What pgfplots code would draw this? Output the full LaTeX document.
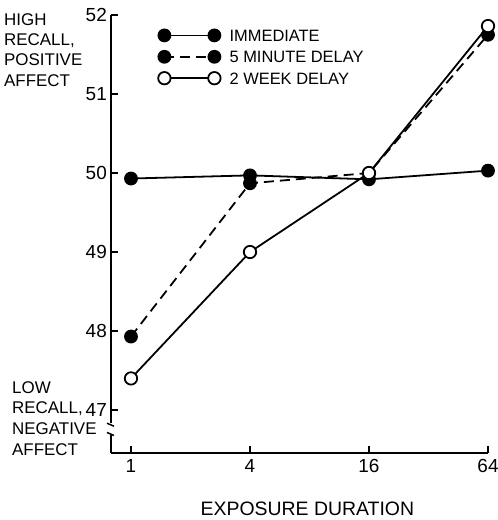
\documentclass[border=0pt]{standalone}
\usepackage{fontspec}
\setmainfont{Liberation Sans}
\usepackage{pgfplots}
\pgfplotsset{compat=1.18}
\begin{document}
\begin{tikzpicture}
\begin{axis}[
  scale only axis, width=377bp, height=438bp,
  xmin=-0.168, xmax=3, ymin=46.456, ymax=52,
  axis lines=left,
  axis line style={-, line width=1.8pt},
  xtick={0,1,2,3}, xticklabels={1,4,16,64},
  ytick={47,48,49,50,51,52},
  tick align=inside,
  major tick length=7bp,
  tick style={line width=1.5pt, black},
  /pgf/number format/assume math mode=true,
  tick label style={font=\fontsize{19}{19}\selectfont},
  yticklabel style={inner sep=4bp},
  xticklabel style={inner sep=6bp},
  xlabel={EXPOSURE DURATION},
  xlabel style={font=\fontsize{19.5}{19.5}\selectfont, at={(axis description cs:0.521,0)}, anchor=base, yshift=-62bp},
  clip=false,
  legend style={draw=none, fill=none, at={(axis description cs:0,1)}, anchor=north west,
    xshift=47bp, yshift=-14bp, inner sep=0pt, column sep=9bp,
    font=\fontsize{16.5}{16.5}\selectfont, row sep=9bp,
    nodes={inner sep=0pt, text height=12bp, text depth=0bp}},
  legend cell align=left,
  legend image code/.code={\draw[line width=1.8pt, #1] plot coordinates {(0bp,0bp) (50bp,0bp)};},
  every axis plot/.append style={line width=1.8pt, mark size=6.2bp, mark options={solid, line width=1.4pt}},
]
\addplot[black, mark=*] coordinates {(0,49.93) (1,49.97) (2,49.92) (3,50.03)};
\addlegendentry{IMMEDIATE}
\addplot[black, mark=*, dash pattern=on 10bp off 6bp] coordinates {(0,47.93) (1,49.87) (2,50.0) (3,51.75)};
\addlegendentry{5 MINUTE DELAY}
\addplot[black, mark=*, mark options={fill=white}] coordinates {(0,47.4) (1,49.0) (2,50.0) (3,51.86)};
\addlegendentry{2 WEEK DELAY}
% axis break
\fill[white] ([xshift=-4bp]rel axis cs:0,0.040) rectangle ([xshift=4bp]rel axis cs:0,0.068);
\draw[line width=1.5pt] ([xshift=-4bp,yshift=3bp]rel axis cs:0,0.040) -- ([xshift=3bp,yshift=0bp]rel axis cs:0,0.040);
\draw[line width=1.5pt] ([xshift=-4bp,yshift=0bp]rel axis cs:0,0.068) -- ([xshift=3bp,yshift=-3bp]rel axis cs:0,0.068);
\node[anchor=north west, align=left, inner sep=0pt, font=\fontsize{17}{20.5}\selectfont]
  at ([xshift=-107bp,yshift=2bp]rel axis cs:0,1) {HIGH\\RECALL,\\POSITIVE\\AFFECT};
\node[anchor=north west, align=left, inner sep=0pt, font=\fontsize{17}{21}\selectfont]
  at ([xshift=-99bp,yshift=72bp]rel axis cs:0,0) {LOW\\RECALL,\\NEGATIVE\\AFFECT};
\end{axis}
\pgfresetboundingbox
\path[use as bounding box] (-111bp,-67bp) rectangle (387bp,453bp);
\end{tikzpicture}
\end{document}
